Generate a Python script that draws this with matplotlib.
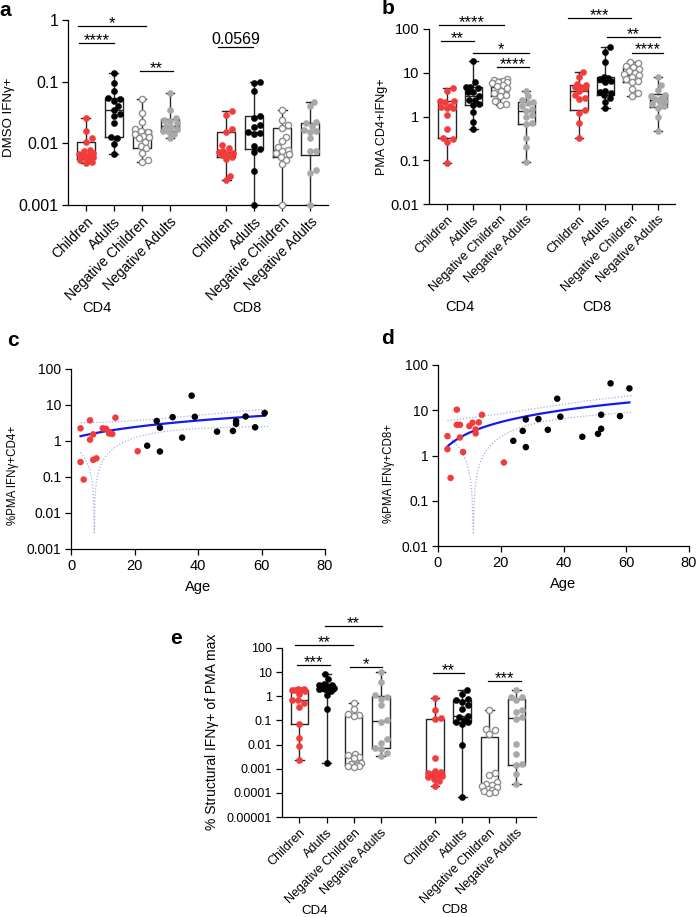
import numpy as np
import matplotlib
matplotlib.use('Agg')
import matplotlib.pyplot as plt

plt.rcParams['font.family'] = ['Liberation Sans', 'DejaVu Sans']

# ---------------- data ----------------
categories = ['Children', 'Adults', 'Negative Children', 'Negative Adults']
positions = [0, 1, 2, 3, 5, 6, 7, 8]

# panel a: DMSO IFNy+
a_cd4_children = [0.026, 0.016, 0.012, 0.0105, 0.0079, 0.0075, 0.0069, 0.0067, 0.0065, 0.0062, 0.006, 0.0055, 0.0053, 0.005, 0.0048]
a_cd4_adults = [0.14, 0.094, 0.07, 0.054, 0.052, 0.049, 0.041, 0.035, 0.03, 0.028, 0.021, 0.0125, 0.012, 0.0098, 0.0067]
a_cd4_neg_children = [0.052, 0.031, 0.022, 0.017, 0.016, 0.015, 0.014, 0.013, 0.0125, 0.012, 0.0105, 0.009, 0.0083, 0.007, 0.0053, 0.0049]
a_cd4_neg_adults = [0.066, 0.035, 0.026, 0.024, 0.023, 0.021, 0.019, 0.0185, 0.017, 0.016, 0.0152, 0.014, 0.012]
a_cd8_children = [0.033, 0.029, 0.017, 0.015, 0.0094, 0.0083, 0.0076, 0.0073, 0.0071, 0.0068, 0.0065, 0.006, 0.0055, 0.0029, 0.0025]
a_cd8_adults = [0.1, 0.095, 0.07, 0.028, 0.026, 0.02, 0.0185, 0.0155, 0.0145, 0.014, 0.009, 0.0082, 0.0072, 0.0036, 0.001]
a_cd8_neg_children = [0.035, 0.024, 0.02, 0.0175, 0.0128, 0.011, 0.0088, 0.0078, 0.0074, 0.007, 0.0066, 0.006, 0.0054, 0.0046, 0.001]
a_cd8_neg_adults = [0.047, 0.04, 0.022, 0.021, 0.019, 0.0165, 0.016, 0.0155, 0.012, 0.0075, 0.0074, 0.0037, 0.0033, 0.001]

# panels c/d: age vs %PMA IFNy+ (also used in panel b)
children_age = [3, 3, 4, 6, 6, 7, 7, 8, 10, 11, 12, 12, 13, 14, 21]
adults_age = [24, 27, 28, 28, 32, 35, 38, 39, 46, 51, 52, 52, 55, 58, 61]
cd4_pma_children = [2.25, 0.26, 0.085, 3.75, 1.09, 1.53, 0.30, 0.33, 2.25, 2.2, 1.78, 1.62, 1.57, 4.45, 0.52]
cd4_pma_adults = [0.74, 3.6, 2.34, 0.51, 4.6, 1.24, 18.2, 4.7, 1.82, 1.9, 3.6, 3.0, 4.8, 2.4, 6.0]
cd8_pma_children = [2.68, 1.38, 0.32, 10.3, 4.77, 4.77, 2.5, 1.19, 4.47, 5.3, 3.77, 3.07, 5.4, 7.95, 0.70]
cd8_pma_adults = [2.11, 3.5, 6.27, 1.53, 6.4, 3.7, 18.0, 7.2, 2.59, 3.02, 7.95, 3.89, 39.3, 7.43, 30.4]

# panel b negatives
b_cd4_neg_children = [7.2, 6.9, 6.6, 6.3, 6.0, 5.7, 5.3, 4.9, 4.4, 3.8, 3.4, 3.1, 2.9, 2.3, 1.95, 1.8]
b_cd4_neg_adults = [3.9, 2.9, 2.4, 2.2, 2.0, 1.75, 1.5, 1.35, 1.1, 0.95, 0.72, 0.68, 0.33, 0.2, 0.09]
b_cd8_neg_children = [17.6, 16.5, 14.5, 13.5, 12.5, 11.0, 10.0, 9.2, 8.8, 8.2, 7.2, 6.5, 6.0, 4.3, 3.4, 2.9]
b_cd8_neg_adults = [8.0, 5.3, 4.0, 3.1, 2.9, 2.7, 2.5, 2.3, 2.1, 1.9, 1.7, 1.6, 1.0, 0.46]

# panel e: % structural IFNy+ of PMA max
e_cd4_children = [2.07, 1.95, 1.85, 1.8, 1.75, 1.6, 1.2, 0.72, 0.68, 0.55, 0.35, 0.073, 0.018, 0.0087, 0.0024]
e_cd4_adults = [8.5, 5.0, 3.3, 3.0, 2.8, 2.6, 2.5, 2.35, 2.25, 2.1, 1.95, 1.65, 1.1, 0.31, 0.0018]
e_cd4_neg_children = [0.55, 0.3, 0.18, 0.17, 0.15, 0.0042, 0.0038, 0.0032, 0.0028, 0.0018, 0.0016, 0.0015, 0.0014, 0.0013, 0.0013, 0.0012]
e_cd4_neg_adults = [10, 3.9, 1.15, 0.95, 0.8, 0.42, 0.1, 0.09, 0.017, 0.012, 0.0075, 0.0068, 0.0045, 0.0035]
e_cd8_children = [0.85, 0.26, 0.13, 0.12, 0.0029, 0.0008, 0.00072, 0.00066, 0.00062, 0.00055, 0.00048, 0.00045, 0.00038, 0.0003, 0.0002]
e_cd8_adults = [1.87, 1.28, 0.8, 0.68, 0.58, 0.42, 0.31, 0.152, 0.14, 0.1, 0.09, 0.086, 0.073, 0.0093, 0.000068]
e_cd8_neg_children = [0.28, 0.046, 0.039, 0.028, 0.00066, 0.00053, 0.00028, 0.00024, 0.00022, 0.0002, 0.00017, 0.00015, 0.00013, 0.00012, 0.000107, 0.0001]
e_cd8_neg_adults = [1.87, 0.95, 0.9, 0.7, 0.26, 0.22, 0.14, 0.12, 0.011, 0.0042, 0.0015, 0.0014, 0.00058, 0.00024]

# significance annotations: (x1, x2, y, label)
a_sig = [(-0.29, 2.15, 0.81, '*'), (-0.23, 1.0, 0.43, '****'), (1.94, 3.1, 0.15, '**'), (4.71, 5.96, 0.37, '0.0569')]
b_sig = [(-0.29, 2.18, 125, '****'), (-0.24, 1.03, 52, '**'), (1.0, 3.11, 29, '*'), (1.91, 3.11, 13.3, '****'),
         (4.57, 6.97, 178, '***'), (6.06, 8.09, 64, '**'), (7.01, 8.19, 29, '****')]
e_sig = [(0.93, 3.05, 790, '**'), (-0.15, 1.96, 137, '**'), (-0.07, 1.12, 20, '***'), (1.86, 3.05, 17, '*'),
         (4.91, 6.08, 9.2, '**'), (6.95, 8.17, 4.2, '***')]

# ---------------- styling ----------------
RED = '#f23c3c'
NC_EDGE = '#8e8e8e'
NA_FILL = '#a8a8a8'
BOXC = '#262626'
group_face = [RED, 'black', 'white', NA_FILL]
group_edge = [RED, 'black', NC_EDGE, NA_FILL]

W, H = 700, 917
fig = plt.figure(figsize=(W / 100, H / 100), dpi=100)


def add_ax(l, t, r, b):
    return fig.add_axes([l / W, 1 - b / H, (r - l) / W, (b - t) / H])


def style_spines(ax):
    for s in ['top', 'right']:
        ax.spines[s].set_visible(False)
    for s in ['left', 'bottom']:
        ax.spines[s].set_linewidth(0.9)
    ax.minorticks_off()


def swarm_x(ax, xc, vals, d_px, max_off):
    vals = np.asarray(vals, float)
    pts = ax.transData.transform(np.column_stack([np.full(len(vals), xc), vals]))
    ys = pts[:, 1]
    x0 = pts[0, 0]
    unit = ax.transData.transform([[xc + 1, vals[0]]])[0, 0] - x0
    max_px = max_off * unit
    order = np.argsort(ys)
    step = d_px / 4
    cands = [0.0]
    k = 1
    while k * step <= max_px:
        cands += [k * step, -k * step]
        k += 1
    px_, py_ = [], []
    offs = np.zeros(len(vals))
    for i in order:
        best_c, best_d = 0.0, -1
        for c in cands:
            if px_:
                dmin = min((c - a) ** 2 + (ys[i] - b) ** 2 for a, b in zip(px_, py_))
            else:
                dmin = 1e9
            if dmin >= d_px ** 2:
                best_c = c
                break
            if dmin > best_d + 1e-9:
                best_d, best_c = dmin, c
        px_.append(best_c)
        py_.append(ys[i])
        offs[i] = best_c
    return ax.transData.inverted().transform(np.column_stack([x0 + offs, ys]))[:, 0]


def box_panel(ax, groups, ylim, yticks, yticklabels, xlim, ytick_fs, xtick_fs, sig, ms=20, d_px=5.8):
    ax.set_yscale('log')
    ax.set_ylim(ylim)
    ax.set_xlim(xlim)
    style_spines(ax)
    stats = []
    for vals in groups:
        v = np.asarray(vals, float)
        q1, med, q3 = np.percentile(v, [25, 50, 75], method='weibull')
        stats.append(dict(med=med, q1=q1, q3=q3, whislo=v.min(), whishi=v.max(), fliers=[]))
    lp = dict(color=BOXC, linewidth=1.0)
    ax.bxp(stats, positions=positions, widths=0.65, capwidths=0.32, showfliers=False,
           boxprops=lp, whiskerprops=lp, capprops=lp, medianprops=lp, manage_ticks=False, zorder=2)
    for gi, (vals, p) in enumerate(zip(groups, positions)):
        k = gi % 4
        xs = swarm_x(ax, p, vals, d_px, 0.3)
        ax.scatter(xs, vals, s=ms, facecolors=group_face[k], edgecolors=group_edge[k],
                   linewidths=1.0 if k == 2 else 0.3, zorder=3, clip_on=False)
    ax.set_yticks(yticks)
    ax.set_yticklabels(yticklabels, fontsize=ytick_fs)
    ax.set_xticks(positions)
    ax.set_xticklabels(categories * 2, rotation=45, ha='right', va='top',
                       rotation_mode='anchor', fontsize=xtick_fs)
    ax.tick_params(axis='both', length=4, width=0.9, pad=3)
    ax.tick_params(axis='x', pad=3)
    for x1, x2, y, lab in sig:
        ax.plot([x1, x2], [y, y], color='black', lw=0.9, clip_on=False, zorder=4)
        if lab[0].isdigit():
            ax.annotate(lab, ((x1 + x2) / 2, y), xytext=(0, 2), textcoords='offset points',
                        ha='center', va='baseline', fontsize=11.5, annotation_clip=False)
        else:
            ax.annotate(lab, ((x1 + x2) / 2, y), xytext=(0, -1.5), textcoords='offset points',
                        ha='center', va='baseline', fontsize=12, annotation_clip=False)


# ---------------- panel a ----------------
ax_a = add_ax(68, 20, 328, 205)
box_panel(ax_a, [a_cd4_children, a_cd4_adults, a_cd4_neg_children, a_cd4_neg_adults,
                 a_cd8_children, a_cd8_adults, a_cd8_neg_children, a_cd8_neg_adults],
          (0.001, 1), [0.001, 0.01, 0.1, 1], ['0.001', '0.01', '0.1', '1'], (-0.64, 8.64), 11.5, 10, a_sig)

# ---------------- panel b ----------------
ax_b = add_ax(429, 29, 675, 204)
box_panel(ax_b, [cd4_pma_children, cd4_pma_adults, b_cd4_neg_children, b_cd4_neg_adults,
                 cd8_pma_children, cd8_pma_adults, b_cd8_neg_children, b_cd8_neg_adults],
          (0.01, 100), [0.01, 0.1, 1, 10, 100], ['0.01', '0.1', '1', '10', '100'], (-0.68, 8.64), 10.5, 9.3, b_sig)

# ---------------- panel e ----------------
ax_e = add_ax(282, 648, 536, 817)
box_panel(ax_e, [e_cd4_children, e_cd4_adults, e_cd4_neg_children, e_cd4_neg_adults,
                 e_cd8_children, e_cd8_adults, e_cd8_neg_children, e_cd8_neg_adults],
          (1e-5, 100), [1e-5, 1e-4, 1e-3, 1e-2, 0.1, 1, 10, 100],
          ['0.00001', '0.0001', '0.001', '0.01', '0.1', '1', '10', '100'], (-0.64, 8.72), 9, 9, e_sig)


# ---------------- scatter panels ----------------
T_CRIT = 2.048  # t(0.975, df=28)


def scatter_panel(ax, ych, yad, ylim, yticks, yticklabels, rtxt, ptxt, p_frac):
    ax.set_yscale('log')
    ax.set_xlim(0, 80)
    ax.set_ylim(ylim)
    style_spines(ax)
    x = np.array(children_age + adults_age, float)
    y = np.array(ych + yad, float)
    b, a = np.polyfit(x, y, 1)
    n = len(x)
    resid = y - (a + b * x)
    s = np.sqrt(np.sum(resid ** 2) / (n - 2))
    sxx = np.sum((x - x.mean()) ** 2)
    xg = np.linspace(x.min(), x.max() + 1, 300)
    yh = a + b * xg
    half = T_CRIT * s * np.sqrt(1 / n + (xg - x.mean()) ** 2 / sxx)
    ax.plot(xg, yh + half, ls=(0, (1, 1.5)), color='#a9aee6', lw=0.9, zorder=1)
    ax.plot(xg, np.abs(yh - half), ls=(0, (1, 1.5)), color='#a9aee6', lw=0.9, zorder=1)
    xl = np.linspace(x.min(), x.max(), 100)
    ax.plot(xl, a + b * xl, color='#1717f0', lw=1.6, zorder=2)
    ax.scatter(children_age, ych, s=22, color=RED, edgecolors='none', zorder=3)
    ax.scatter(adults_age, yad, s=22, color='black', edgecolors='none', zorder=3)
    ax.set_yticks(yticks)
    ax.set_yticklabels(yticklabels, fontsize=10)
    ax.set_xticks([0, 20, 40, 60, 80])
    ax.set_xticklabels(['0', '20', '40', '60', '80'], fontsize=10.5)
    ax.tick_params(axis='both', length=4, width=0.9, pad=3)
    ax.set_xlabel('Age', fontsize=10.5, labelpad=5)
    ax.text(2.1, 1.0, rtxt, transform=ax.get_yaxis_transform(), fontsize=10.5, va='center', ha='left')
    ax.text(2.1, p_frac, ptxt, transform=ax.get_yaxis_transform(), fontsize=10.5, va='center', ha='left')


ax_c = add_ax(71, 369, 325, 549)
scatter_panel(ax_c, cd4_pma_children, cd4_pma_adults, (0.001, 100), [0.001, 0.01, 0.1, 1, 10, 100],
              ['0.001', '0.01', '0.1', '1', '10', '100'], 'r=0.5790', 'p=0.0008***', 0.904)
ax_d = add_ax(438, 365, 689, 546)
scatter_panel(ax_d, cd8_pma_children, cd8_pma_adults, (0.01, 100), [0.01, 0.1, 1, 10, 100],
              ['0.01', '0.1', '1', '10', '100'], 'r=0.4648', 'p=0.0097**', 0.908)

# ---------------- labels ----------------
def ftext(x, y, s, **kw):
    fig.text(x / W, 1 - y / H, s, **kw)

ftext(9, 117, 'DMSO IFNγ+', rotation=90, ha='center', va='center', fontsize=9.5)
ftext(382, 127, 'PMA CD4+IFNg+', rotation=90, ha='center', va='center', fontsize=9)
ftext(13, 475, '%PMA IFNγ+CD4+', rotation=90, ha='center', va='center', fontsize=8.3)
ftext(389, 473, '%PMA IFNγ+CD8+', rotation=90, ha='center', va='center', fontsize=8.3)
ftext(212, 732, '% Structural IFNγ+ of PMA max', rotation=90, ha='center', va='center', fontsize=10)

for x, y, s, fs in [(97, 308, 'CD4', 10.5), (247, 308, 'CD8', 10.5), (460, 307, 'CD4', 10.5), (597, 307, 'CD8', 10.5),
                    (315, 911, 'CD4', 9.5), (455, 910, 'CD8', 9.5)]:
    ftext(x, y, s, ha='center', va='center', fontsize=fs)

for x, y, s in [(5, 10, 'a'), (388, 9, 'b'), (13, 340, 'c'), (388, 338, 'd'), (176, 638, 'e')]:
    ftext(x, y, s, ha='center', va='center', fontsize=15, fontweight='bold')

fig.savefig('out.png', dpi=100)
